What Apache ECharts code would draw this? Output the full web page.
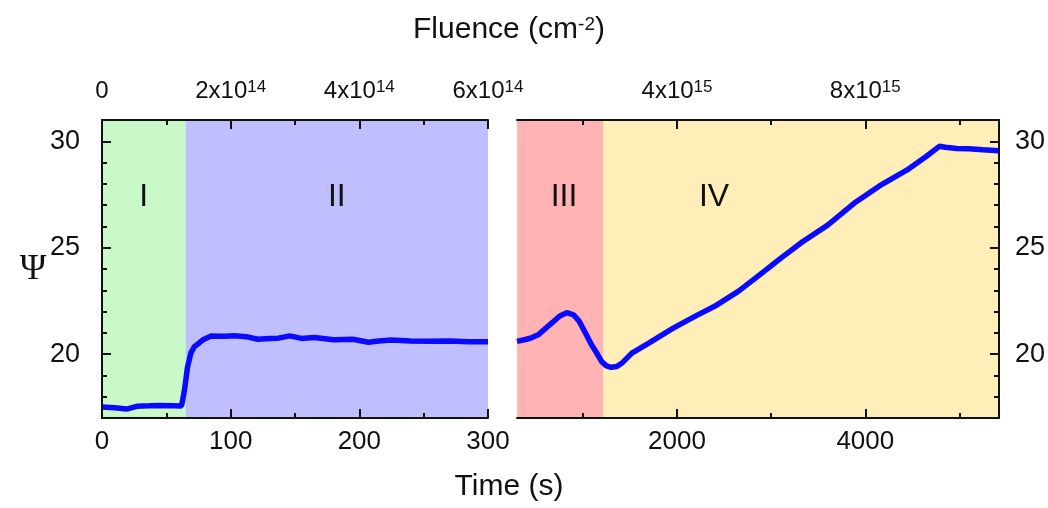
<!DOCTYPE html>
<html>
<head>
<meta charset="utf-8">
<script src="https://cdn.jsdelivr.net/npm/echarts@6/dist/echarts.min.js"></script>
<style>
html,body{margin:0;padding:0;background:#fff;}
#chart{width:1048px;height:508px;}
</style>
</head>
<body>
<div id="chart"></div>
<script>
// ---- data ----
const leftTime = [0, 10, 19, 27, 37, 46, 55, 61.8, 63.9, 66.5, 69.1, 71.7, 78.2, 84.7, 95, 103, 112, 121, 130, 137, 146, 155, 165, 180, 195, 207, 215, 225, 240, 255, 270, 285, 300];
const leftPsi  = [17.52, 17.48, 17.42, 17.55, 17.57, 17.59, 17.58, 17.56, 18.23, 19.40, 20.06, 20.34, 20.66, 20.85, 20.84, 20.86, 20.82, 20.70, 20.74, 20.75, 20.86, 20.74, 20.78, 20.68, 20.70, 20.56, 20.62, 20.66, 20.62, 20.60, 20.62, 20.58, 20.58];

const rightTime = [300, 400, 460, 530, 600, 680, 750, 830, 900, 960, 1030, 1090, 1140, 1200, 1250, 1300, 1360, 1420, 1520, 1700, 1950, 2200, 2420, 2650, 2850, 3100, 3330, 3600, 3900, 4150, 4440, 4650, 4790, 4850, 4970, 5100, 5250, 5420];
const rightPsi  = [20.60, 20.70, 20.78, 20.92, 21.20, 21.50, 21.78, 21.95, 21.85, 21.55, 20.97, 20.45, 20.10, 19.65, 19.45, 19.38, 19.42, 19.60, 20.05, 20.52, 21.20, 21.80, 22.30, 22.95, 23.63, 24.50, 25.27, 26.06, 27.15, 27.90, 28.64, 29.30, 29.77, 29.72, 29.66, 29.65, 29.60, 29.55];

const regionNames  = ['I', 'II', 'III', 'IV'];
const regionStart  = [0, 65, 300, 1215];
const regionEnd    = [65, 300, 1215, 5420];
const regionColors = ['#c9f9c9', '#bfbfff', '#ffb3b3', '#ffeeb8'];

const yTickValues = [20, 25, 30];
const bottomLeftTicks = [0, 100, 200, 300];
const bottomRightTicks = [2000, 4000];
const topLeftTicks = [0, 100, 200, 300];
const topLeftText = ['0', '2x10^14', '4x10^14', '6x10^14'];
const topRightTicks = [2000, 4000];
const topRightText = ['4x10^15', '8x10^15'];

const FONT = 'Liberation Sans, Arial, sans-serif';
const ink = '#111';

function richLabel(s) {
  const p = s.split('^');
  return p.length > 1 ? '{n|' + p[0] + '}{s|' + p[1] + '}' : '{n|' + p[0] + '}';
}
function topFormatter(ticks, texts) {
  return function (v) {
    const i = ticks.indexOf(v);
    return i >= 0 ? richLabel(texts[i]) : '';
  };
}
const plain = v => String(v);
const topRich = {
  n: {fontSize: 24, fontFamily: FONT, color: ink, lineHeight: 24, verticalAlign: 'bottom', padding: [8, 0, 0, 0]},
  s: {fontSize: 17, fontFamily: FONT, color: ink, lineHeight: 17, verticalAlign: 'top'}
};

const axisLine = {show: true, onZero: false, lineStyle: {color: ink, width: 2}};
const tick = {show: true, inside: true, length: 9, lineStyle: {color: ink, width: 2}};
const minor = {show: true, splitNumber: 2, length: 5, lineStyle: {color: ink, width: 2}};

const grids = [
  {left: 102, top: 120, width: 386, height: 298},
  {left: 517, top: 120, width: 482, height: 298}
];

const xAxes = [
  {gridIndex: 0, type: 'value', position: 'bottom', min: 0, max: 300, interval: 100, z: 10,
   axisLine, axisTick: Object.assign({}, tick, {customValues: bottomLeftTicks}), minorTick: minor, splitLine: {show: false},
   axisLabel: {customValues: bottomLeftTicks, formatter: plain, fontSize: 26, fontFamily: FONT, color: ink, margin: 11}},
  {gridIndex: 0, type: 'value', position: 'top', min: 0, max: 300, interval: 100, z: 10,
   axisLine, axisTick: Object.assign({}, tick, {customValues: topLeftTicks}), minorTick: minor, splitLine: {show: false},
   axisLabel: {customValues: topLeftTicks, formatter: topFormatter(topLeftTicks, topLeftText), rich: topRich, margin: 17}},
  {gridIndex: 1, type: 'value', position: 'bottom', min: 300, max: 5420, splitNumber: 3, z: 10,
   axisLine, axisTick: Object.assign({}, tick, {customValues: bottomRightTicks}), minorTick: minor, splitLine: {show: false},
   axisLabel: {customValues: bottomRightTicks, formatter: plain, fontSize: 26, fontFamily: FONT, color: ink, margin: 11}},
  {gridIndex: 1, type: 'value', position: 'top', min: 300, max: 5420, splitNumber: 3, z: 10,
   axisLine, axisTick: Object.assign({}, tick, {customValues: topRightTicks}), minorTick: minor, splitLine: {show: false},
   axisLabel: {customValues: topRightTicks, formatter: topFormatter(topRightTicks, topRightText), rich: topRich, margin: 17}}
];

const yMinor = {show: true, splitNumber: 5, length: 5, lineStyle: {color: ink, width: 2}};
const yAxes = [
  {gridIndex: 0, type: 'value', position: 'left', min: 17, max: 31, splitNumber: 3, z: 10,
   axisLine, axisTick: Object.assign({}, tick, {customValues: yTickValues}), minorTick: yMinor, splitLine: {show: false},
   axisLabel: {customValues: yTickValues, formatter: plain, fontSize: 27, fontFamily: FONT, color: ink, margin: 22}},
  {gridIndex: 1, type: 'value', position: 'right', min: 17, max: 31, splitNumber: 3, z: 10,
   axisLine, axisTick: Object.assign({}, tick, {customValues: yTickValues}), minorTick: yMinor, splitLine: {show: false},
   axisLabel: {customValues: yTickValues, formatter: plain, fontSize: 27, fontFamily: FONT, color: ink, margin: 16}}
];

function areaItem(i, offset) {
  return [
    {xAxis: regionStart[i], itemStyle: {color: regionColors[i]},
     label: {show: true, position: 'insideTop', distance: 61, offset: offset || [0, 0], formatter: regionNames[i],
             fontSize: 32, fontFamily: FONT, color: ink}},
    {xAxis: regionEnd[i]}
  ];
}

const lineStyle = {color: '#0a0aff', width: 5.5};

const option = {
  animation: false,
  backgroundColor: '#fff',
  grid: grids,
  xAxis: xAxes,
  yAxis: yAxes,
  graphic: [
    {type: 'text', x: 509, y: 30, style: {text: '{a|Fluence (cm}{b|-2}{a|)}', align: 'center', verticalAlign: 'middle',
      rich: {a: {fontSize: 30, fontFamily: FONT, fill: ink, lineHeight: 30, verticalAlign: 'bottom', padding: [7, 0, 0, 0]},
             b: {fontSize: 19, fontFamily: FONT, fill: ink, lineHeight: 19, verticalAlign: 'top'}}}},
    {type: 'text', x: 509, y: 487, style: {text: 'Time (s)', align: 'center', verticalAlign: 'middle', fontSize: 30, fontFamily: FONT, fill: ink}},
    {type: 'text', x: 33, y: 270, style: {text: 'Ψ', align: 'center', verticalAlign: 'middle', fontSize: 36, fontFamily: 'Liberation Serif, DejaVu Serif, serif', fill: ink}}
  ],
  series: [
    {type: 'line', xAxisIndex: 0, yAxisIndex: 0, showSymbol: false, z: 5, lineStyle, clip: true,
     data: leftTime.map((t, i) => [t, leftPsi[i]]),
     markArea: {silent: true, data: [areaItem(0), areaItem(1)]}},
    {type: 'line', xAxisIndex: 2, yAxisIndex: 1, showSymbol: false, z: 5, lineStyle, clip: true,
     data: rightTime.map((t, i) => [t, rightPsi[i]]),
     markArea: {silent: true, data: [areaItem(2, [4, 0]), areaItem(3, [-87, 0])]}}
  ]
};

const chart = echarts.init(document.getElementById('chart'), null, {renderer: 'canvas'});
chart.setOption(option);
</script>
</body>
</html>
